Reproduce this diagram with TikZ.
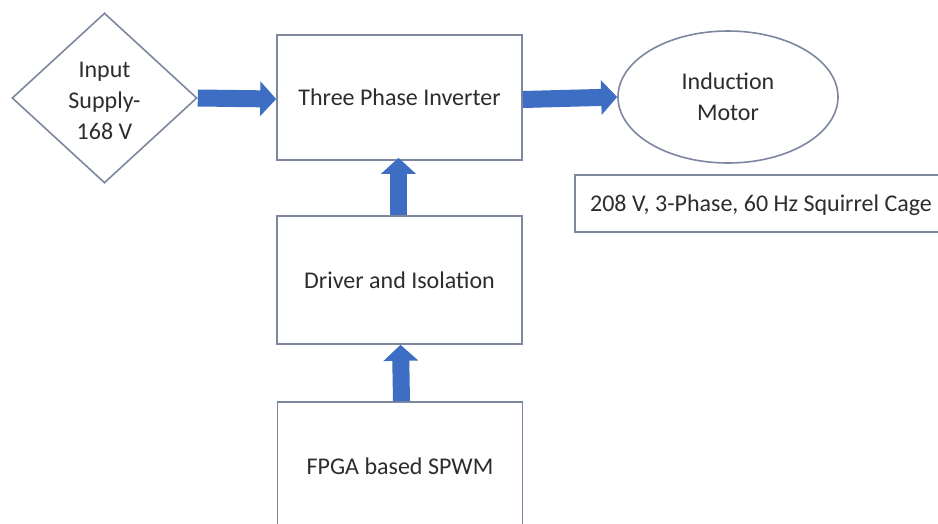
\documentclass[tikz,border=0pt]{standalone}
\usepackage{fontspec}
\setmainfont{Carlito}
\usetikzlibrary{shapes.geometric,arrows.meta}
\definecolor{boxline}{RGB}{125,135,158}
\definecolor{arrowblue}{RGB}{62,110,196}
\definecolor{txt}{RGB}{45,45,45}
\tikzset{
  blk/.style={draw=boxline, line width=1.6pt, fill=white, inner sep=0pt, text=txt,
    font=\fontsize{24}{31}\selectfont, align=center},
  lbl/.style={text=txt, font=\fontsize{24}{31}\selectfont, align=center, inner sep=0pt},
  bigarrow/.style={draw=arrowblue, line width=17pt,
    -{Triangle[length=16pt, width=34pt]}},
}
\begin{document}
\begin{tikzpicture}[x=1pt, y=-1pt]
\clip (0,0) rectangle (938,523);
\fill[white] (0,0) rectangle (938,523);

% nodes
\node[blk, shape=diamond, minimum width=185pt, minimum height=170pt] (sup) at (104.5,98) {};
\node[lbl] (suptxt) at (104.5,101) {Input\\Supply-\\168 V};
\node[blk, minimum width=245pt, minimum height=125pt] (inv) at (399.5,97.5) {Three Phase Inverter};
\node[blk, shape=ellipse, minimum width=220pt, minimum height=132pt] (mot) at (728,97) {Induction\\Motor};
\node[blk, minimum width=372pt, minimum height=57pt] (note) at (761,203.5) {};
\node[lbl] (notetxt) at (761,205) {208 V, 3-Phase, 60 Hz Squirrel Cage};
\node[blk, minimum width=245pt, minimum height=128pt] (drv) at (399.5,280) {Driver and Isolation};
\node[blk, minimum width=245pt, minimum height=128pt] (fpga) at (400,466) {FPGA based SPWM};

% connectors
\draw[bigarrow] (sup.east) -- ([yshift=-1.5pt]inv.west);
\draw[bigarrow] ([yshift=-2pt]inv.east) -- (mot.west);
\draw[bigarrow] ([xshift=-1pt]drv.north) -- ([xshift=-1pt,yshift=3pt]inv.south);
\draw[bigarrow] ([xshift=1.5pt]fpga.north) -- ([xshift=1pt]drv.south);
\end{tikzpicture}
\end{document}
